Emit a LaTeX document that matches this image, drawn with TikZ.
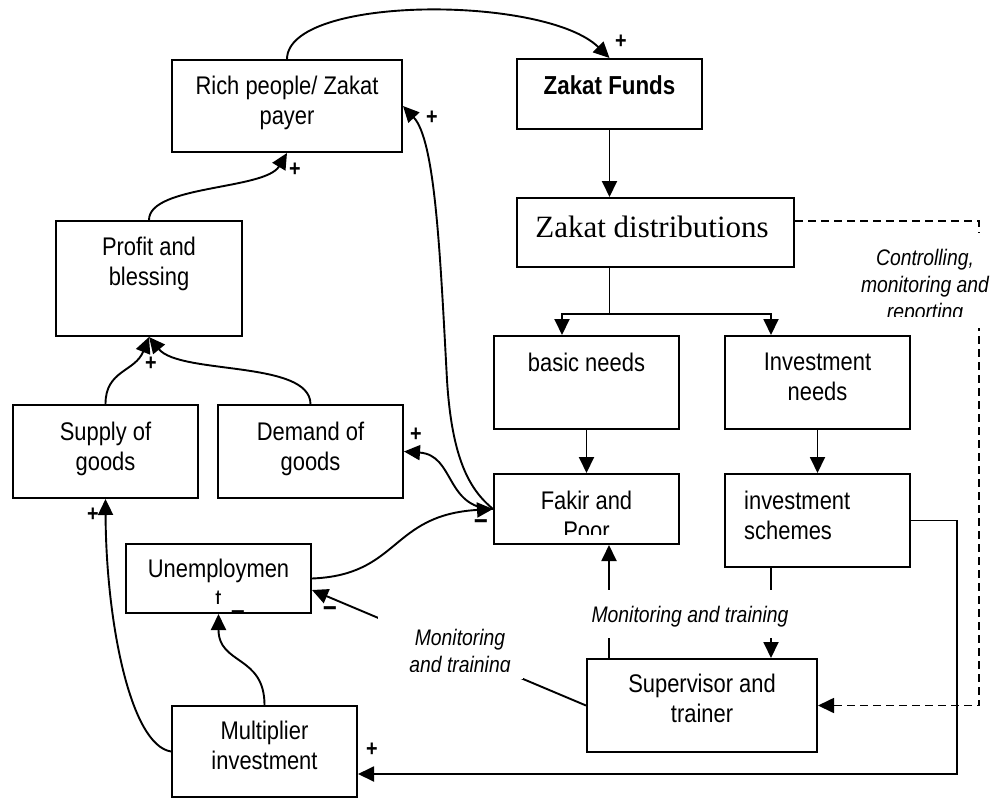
\documentclass[tikz,border=0pt]{standalone}
\usepackage{fontspec}
\setmainfont{Liberation Sans}[FakeStretch=0.86]
\newfontfamily\zdfont{Liberation Serif}
\usetikzlibrary{arrows.meta}
\begin{document}
\begin{tikzpicture}[x=1pt,y=-1pt,
 box/.style={draw, line width=2pt, inner sep=0pt},
 txt/.style={inner sep=0pt, align=center, anchor=north, font=\fontsize{25.5}{30.5}\selectfont},
 lbl/.style={inner sep=0pt, align=center, font=\fontsize{22.5}{27}\selectfont\itshape},
 conn/.style={line width=1.9pt},
 arr/.style={conn, -{Triangle[length=16pt,width=15pt]}},
 dashline/.style={arr, line width=1.7pt, dash pattern=on 8pt off 5pt},
 plus/.style={inner sep=0pt, font=\fontsize{23}{23}\selectfont\bfseries},
 minus/.style={inner sep=0pt, font=\fontsize{28}{28}\selectfont\bfseries},
 cover/.style={fill=white, inner sep=0pt}
]
\useasboundingbox (0,0) rectangle (993,798);

% boxes
\node[box, minimum width=230pt, minimum height=92pt] (rich) at (287,106) {};
\node[box, minimum width=185pt, minimum height=70pt] (funds) at (609.5,94) {};
\node[box, minimum width=277pt, minimum height=69pt] (distrib) at (655.5,232.5) {};
\node[box, minimum width=186pt, minimum height=115pt] (profit) at (149,278.5) {};
\node[box, minimum width=185pt, minimum height=93pt] (supply) at (105.5,451.5) {};
\node[box, minimum width=185pt, minimum height=93pt] (demand) at (310.5,451.5) {};
\node[box, minimum width=185pt, minimum height=93pt] (basic) at (586.5,382.5) {};
\node[box, minimum width=185pt, minimum height=93pt] (invneeds) at (817.5,382.5) {};
\node[box, minimum width=185pt, minimum height=70pt] (fakir) at (586.5,509) {};
\node[box, minimum width=185pt, minimum height=93pt] (schemes) at (817.5,520.5) {};
\node[box, minimum width=230pt, minimum height=93pt] (superv) at (702,705.5) {};
\node[box, minimum width=185pt, minimum height=69pt] (unemp) at (218.5,578.5) {};
\node[box, minimum width=185pt, minimum height=91pt] (mult) at (264.5,751.5) {};

% box texts
\node[txt] (richT) at ([yshift=-13.5pt]rich.north) {\strut Rich people/ Zakat\\payer};
\node[txt, font=\fontsize{26}{30.5}\selectfont] (fundsT) at ([yshift=-14.5pt]funds.north) {\strut\textbf{Zakat Funds}};
\node[inner sep=0pt, anchor=base, font=\zdfont\fontsize{31}{36}\selectfont] (distT) at (652,237) {Zakat distributions};
\node[txt] (profitT) at ([yshift=-13.5pt]profit.north) {\strut Profit and\\blessing};
\node[txt] (supplyT) at ([yshift=-14.5pt]supply.north) {\strut Supply of\\goods};
\node[txt] (demandT) at ([yshift=-14.5pt]demand.north) {\strut Demand of\\goods};
\node[txt] (basicT) at ([yshift=-14.5pt]basic.north) {\strut basic needs};
\node[txt] (invneedsT) at ([yshift=-13.5pt]invneeds.north) {\strut Investment\\needs};
\begin{scope}
\clip (fakir.north west) rectangle ([yshift=11pt]fakir.south east);
\node[txt] (fakirT) at ([yshift=-14.5pt]fakir.north) {\strut Fakir and\\Poor};
\end{scope}
\node[txt, anchor=north west, align=left] (schemesT) at ([xshift=20pt,yshift=-14.5pt]schemes.north west) {\strut investment\\schemes};
\node[txt] (supervT) at ([yshift=-12.5pt]superv.north) {\strut Supervisor and\\trainer};
\begin{scope}
\clip (unemp.north west) rectangle ([yshift=11pt]unemp.south east);
\node[txt] (unempT) at ([yshift=-12.5pt]unemp.north) {\strut Unemploymen\\t};
\end{scope}
\node[txt] (multT) at ([yshift=-12.5pt]mult.north) {\strut Multiplier\\investment};

% connectors
\draw[arr] (rich.north) .. controls (288,-5) and (545,-5) .. (funds.north);
\draw[arr] (funds.south) -- (funds.south |- distrib.north);
\draw[conn] (funds.south |- distrib.south) -- ++(0,46) coordinate (split);
\draw[arr] (split) -| ([xshift=69pt]basic.north west);
\draw[arr] (split) -| ([xshift=47pt]invneeds.north west);
\draw[arr] (basic.south) -- (fakir.north);
\draw[arr] (invneeds.south) -- (schemes.north);
\draw[dashline] ([yshift=11.5pt]distrib.east) -- ++(184,0) |- (superv.east);
\draw[arr] (schemes.east) -- ++(46,0) |- ([yshift=-22.5pt]mult.east);
\coordinate (svA) at ([xshift=23pt]superv.north west);
\draw[arr] (svA) -- (svA |- fakir.south);
\coordinate (scA) at ([xshift=47pt]schemes.south west);
\draw[arr] (scA) -- (scA |- superv.north);
\draw[arr] (superv.west) -- ([yshift=-11.5pt]unemp.east);
\draw[arr] (mult.north) .. controls (264.5,655) and (218.5,665) .. (unemp.south);
\draw[arr] (mult.west) .. controls (130,745) and (106,620) .. (supply.south);
\draw[arr] (supply.north) .. controls (105.5,370) and (135,372) .. (profit.south);
\draw[arr] (demand.north) .. controls (310,360) and (180,375) .. (profit.south);
\draw[arr] (profit.north) .. controls (149,185) and (265,190) .. (rich.south);
\draw[arr] (fakir.west) .. controls (470,490) and (452,460) .. (447,380) .. controls (440,250) and (435,140) .. (rich.east);
\draw[arr] (fakir.west) .. controls (445,508) and (455,455) .. (demand.east);
\draw[arr] (unemp.east) .. controls (400,575) and (390,515) .. (fakir.west);

% labels on connectors
\node[lbl, cover, anchor=base, text height=16pt, text depth=0pt, inner xsep=3pt, inner ysep=16pt] (mtc) at (690,622) {Monitoring and training};
\node[cover, minimum width=145pt, minimum height=64pt] (mtlbox) at (450.5,647) {};
\begin{scope}
\clip (mtlbox.north west) rectangle ([yshift=8pt]mtlbox.south east);
\node[lbl, anchor=north] (mtl) at (460,626.1) {\strut Monitoring\\and training};
\end{scope}
\node[cover, minimum width=135pt, minimum height=95pt] (ctrlbox) at (925.5,280.5) {};
\begin{scope}
\clip (ctrlbox.north west) rectangle ([yshift=12pt]ctrlbox.south east);
\node[lbl, anchor=north] (ctrl) at (925,246.1) {\strut Controlling,\\monitoring and\\reporting};
\end{scope}

% polarity signs
\node[plus] (s1) at (621,42) {+};
\node[plus] (s2) at (432,118) {+};
\node[plus] (s3) at (295,170) {+};
\node[plus] (s4) at (151,364) {+};
\node[plus] (s5) at (416,435) {+};
\node[minus] (s6) at (481,525) {−};
\node[minus] (s7) at (238,616) {−};
\node[minus] (s8) at (330,612) {−};
\node[plus] (s9) at (93,515) {+};
\node[plus] (s10) at (372,750) {+};
\end{tikzpicture}
\end{document}
